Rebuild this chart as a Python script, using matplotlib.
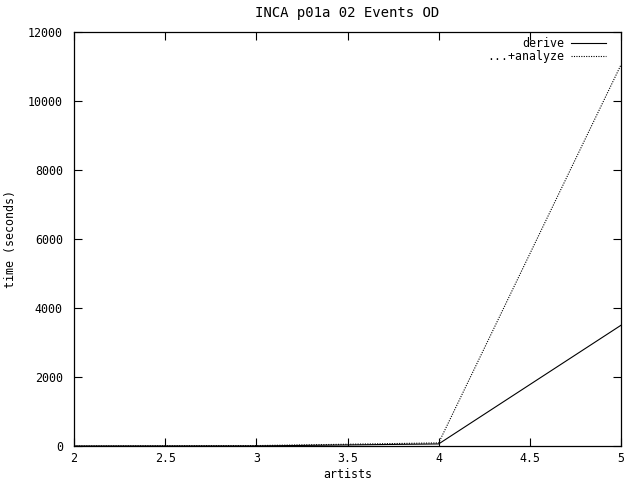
import numpy as np
import matplotlib
matplotlib.use("Agg")
import matplotlib.pyplot as plt

artists = [2, 3, 4, 5]
derive = [0, 2, 60, 3500]
analyze = [0, 12, 90, 11050]

x_ticks = [2, 2.5, 3, 3.5, 4, 4.5, 5]
x_tick_labels = ["2", "2.5", "3", "3.5", "4", "4.5", "5"]
y_ticks = [0, 2000, 4000, 6000, 8000, 10000, 12000]

plt.rcParams['font.family'] = ['DejaVu Sans Mono']
plt.rcParams['font.size'] = 8.4

fig = plt.figure(figsize=(6.4, 4.8), dpi=100)
ax = fig.add_axes([74/640, 34/480, (621-74)/640, (446-32)/480])

ax.plot(artists, derive, color="black", lw=0.8, label="derive")
ax.plot(artists, analyze, color="black", lw=0.8, linestyle=(0, (1, 1.2)), label="...+analyze")

ax.set_xlim(2, 5)
ax.set_ylim(0, 12000)
ax.set_xticks(x_ticks)
ax.set_xticklabels(x_tick_labels)
ax.set_yticks(y_ticks)

ax.tick_params(direction="in", length=6, width=0.8, top=True, right=True, colors="black")
ax.tick_params(axis="x", pad=4)
ax.tick_params(axis="y", pad=8)
for s in ax.spines.values():
	s.set_linewidth(0.9)

ax.set_title("INCA p01a 02 Events OD", pad=11)
ax.set_xlabel("artists", va="center")
ax.xaxis.set_label_coords(0.5, -0.068)
ax.set_ylabel("time (seconds)", va="center")
ax.yaxis.set_label_coords(-0.117, 0.5)

leg = ax.legend(loc="upper right", frameon=False, markerfirst=False, handlelength=3.0,
	handletextpad=0.6, labelspacing=0.0, borderaxespad=0.0, bbox_to_anchor=(0.982, 1.0))

fig.savefig("out.png", dpi=100)
